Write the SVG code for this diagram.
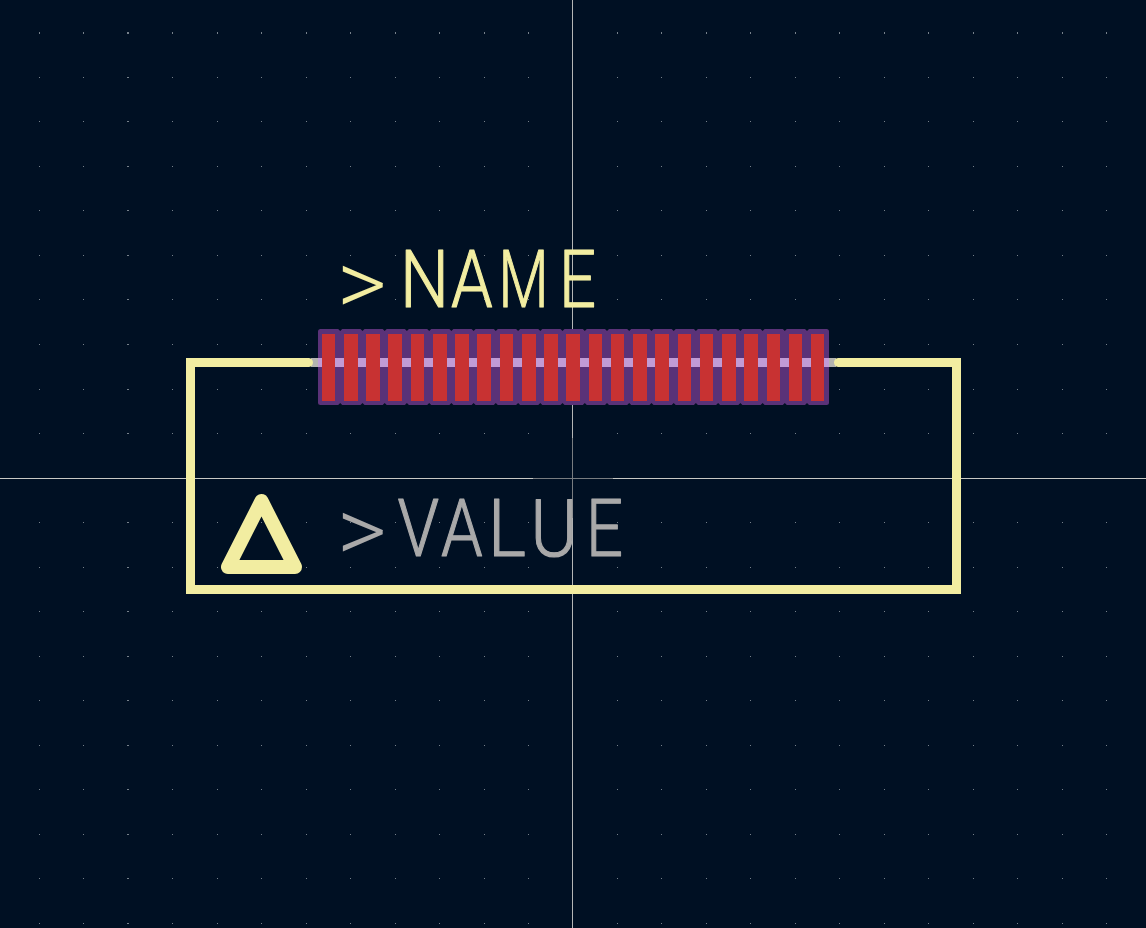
<svg xmlns="http://www.w3.org/2000/svg" width="1146" height="928" viewBox="0 0 1146 928">
<style>
.cu{fill:#c83232;shape-rendering:crispEdges}
.silk{fill:none;stroke:#f2eda1;stroke-width:9;stroke-linecap:round;stroke-linejoin:miter}
.txt{font-family:Roboto,"Liberation Sans",sans-serif;font-weight:300;font-size:80px;stroke-width:1.2px;stroke-linejoin:round}
.gt{font-size:92px;stroke-width:0}
.dot{fill:#76808a}
</style>
<defs>
<path id="row" class="dot" d="M39 0h1v1h-1zM83 0h1v1h-1zM127 0h2v1h-2zM172 0h1v1h-1zM217 0h1v1h-1zM261 0h1v1h-1zM306 0h1v1h-1zM350 0h1v1h-1zM395 0h1v1h-1zM439 0h1v1h-1zM484 0h1v1h-1zM528 0h1v1h-1zM617 0h1v1h-1zM661 0h1v1h-1zM706 0h1v1h-1zM750 0h1v1h-1zM795 0h1v1h-1zM839 0h1v1h-1zM884 0h1v1h-1zM928 0h1v1h-1zM973 0h1v1h-1zM1017 0h1v1h-1zM1062 0h1v1h-1zM1106 0h1v1h-1z"/>
</defs>
<rect width="1146" height="928" fill="#001023"/>
<g id="grid">
<use href="#row" y="32"/><use href="#row" y="33"/><use href="#row" y="77"/><use href="#row" y="121"/><use href="#row" y="166"/><use href="#row" y="210"/><use href="#row" y="255"/><use href="#row" y="299"/><use href="#row" y="344"/><use href="#row" y="389"/><use href="#row" y="433"/><use href="#row" y="522"/><use href="#row" y="567"/><use href="#row" y="611"/><use href="#row" y="656"/><use href="#row" y="700"/><use href="#row" y="745"/><use href="#row" y="789"/><use href="#row" y="834"/><use href="#row" y="878"/><use href="#row" y="923"/>
</g>
<g id="crosshair">
<path d="M0 478.5H533M613 478.5H1146" stroke="#c8c8c4" stroke-width="1" fill="none"/>
<path d="M572.5 0V438M572.5 518V928" stroke="#b4b6b6" stroke-width="1" fill="none"/>
<path d="M533 478.5H613M572.5 438V518" stroke="#787c80" stroke-width="1" fill="none"/>
</g>
<g id="marker">
<path d="M228 567H295L261.5 501Z" fill="none" stroke="#f2eda1" stroke-width="14" stroke-linejoin="round"/>
</g>
<g id="pads">
<rect x="318" y="329" width="511" height="76" rx="2.5" fill="#5a3278"/>
<path fill="#001023" d="M338.2 329h4l-2 2zM360.5 329h4l-2 2zM382.7 329h4l-2 2zM404.9 329h4l-2 2zM427.2 329h4l-2 2zM449.4 329h4l-2 2zM471.6 329h4l-2 2zM493.8 329h4l-2 2zM516.1 329h4l-2 2zM538.3 329h4l-2 2zM560.5 329h4l-2 2zM582.8 329h4l-2 2zM605 329h4l-2 2zM627.2 329h4l-2 2zM649.5 329h4l-2 2zM671.7 329h4l-2 2zM693.9 329h4l-2 2zM716.1 329h4l-2 2zM738.4 329h4l-2 2zM760.6 329h4l-2 2zM782.8 329h4l-2 2zM805 329h4l-2 2zM338.2 405h4l-2 -2zM360.5 405h4l-2 -2zM382.7 405h4l-2 -2zM404.9 405h4l-2 -2zM427.2 405h4l-2 -2zM449.4 405h4l-2 -2zM471.6 405h4l-2 -2zM493.8 405h4l-2 -2zM516.1 405h4l-2 -2zM538.3 405h4l-2 -2zM560.5 405h4l-2 -2zM582.8 405h4l-2 -2zM605 405h4l-2 -2zM627.2 405h4l-2 -2zM649.5 405h4l-2 -2zM671.7 405h4l-2 -2zM693.9 405h4l-2 -2zM716.1 405h4l-2 -2zM738.4 405h4l-2 -2zM760.6 405h4l-2 -2zM782.8 405h4l-2 -2zM805 405h4l-2 -2z"/>
<path d="M318 358H829V367H318Z" fill="#c19cd6"/>
<path d="M311 358H318V367H311ZM829 358H836V367H829Z" fill="#b4b4b0"/>
<rect class="cu" x="322" y="334" width="13.4" height="67"/>
<rect class="cu" x="344.2" y="334" width="13.4" height="67"/>
<rect class="cu" x="366.4" y="334" width="13.4" height="67"/>
<rect class="cu" x="388.4" y="334" width="13.8" height="67"/>
<rect class="cu" x="410.9" y="334" width="13.4" height="67"/>
<rect class="cu" x="433.2" y="334" width="13.4" height="67"/>
<rect class="cu" x="455.4" y="334" width="13.4" height="67"/>
<rect class="cu" x="477.3" y="334" width="13.8" height="67"/>
<rect class="cu" x="499.8" y="334" width="13.4" height="67"/>
<rect class="cu" x="522.1" y="334" width="13.4" height="67"/>
<rect class="cu" x="544.3" y="334" width="13.4" height="67"/>
<rect class="cu" x="566.4" y="334" width="13.8" height="67"/>
<rect class="cu" x="588.8" y="334" width="13.4" height="67"/>
<rect class="cu" x="611" y="334" width="13.4" height="67"/>
<rect class="cu" x="633.2" y="334" width="13.4" height="67"/>
<rect class="cu" x="655.4" y="334" width="13.8" height="67"/>
<rect class="cu" x="677.7" y="334" width="13.4" height="67"/>
<rect class="cu" x="699.9" y="334" width="13.4" height="67"/>
<rect class="cu" x="722.1" y="334" width="13.4" height="67"/>
<rect class="cu" x="744.4" y="334" width="13.8" height="67"/>
<rect class="cu" x="766.6" y="334" width="13.4" height="67"/>
<rect class="cu" x="788.8" y="334" width="13.4" height="67"/>
<rect class="cu" x="811" y="334" width="13.4" height="67"/>
</g>
<g id="outline">
<path class="silk" d="M308.5 362.5H190.5V589.5H956.5V362.5H838.5"/>
</g>
<g id="labels">
<text class="txt" fill="#f2eda1" stroke="#f2eda1"><tspan class="gt" x="337" y="315" textLength="50" lengthAdjust="spacingAndGlyphs">&gt;</tspan><tspan x="400" y="307" textLength="49" lengthAdjust="spacingAndGlyphs">N</tspan><tspan x="451" y="307" textLength="41.7" lengthAdjust="spacingAndGlyphs">A</tspan><tspan x="498.5" y="307" textLength="50" lengthAdjust="spacingAndGlyphs">M</tspan><tspan x="559" y="307" textLength="37" lengthAdjust="spacingAndGlyphs">E</tspan></text>
<text class="txt" fill="#a9a9a9" stroke="#a9a9a9"><tspan class="gt" x="337" y="562" textLength="50" lengthAdjust="spacingAndGlyphs">&gt;</tspan><tspan x="397.5" y="555.5" textLength="41.6" lengthAdjust="spacingAndGlyphs">V</tspan><tspan x="441" y="555.5" textLength="41.7" lengthAdjust="spacingAndGlyphs">A</tspan><tspan x="488" y="555.5" textLength="38" lengthAdjust="spacingAndGlyphs">L</tspan><tspan x="530.6" y="555.5" textLength="47" lengthAdjust="spacingAndGlyphs">U</tspan><tspan x="586" y="555.5" textLength="37" lengthAdjust="spacingAndGlyphs">E</tspan></text>
</g>
</svg>
